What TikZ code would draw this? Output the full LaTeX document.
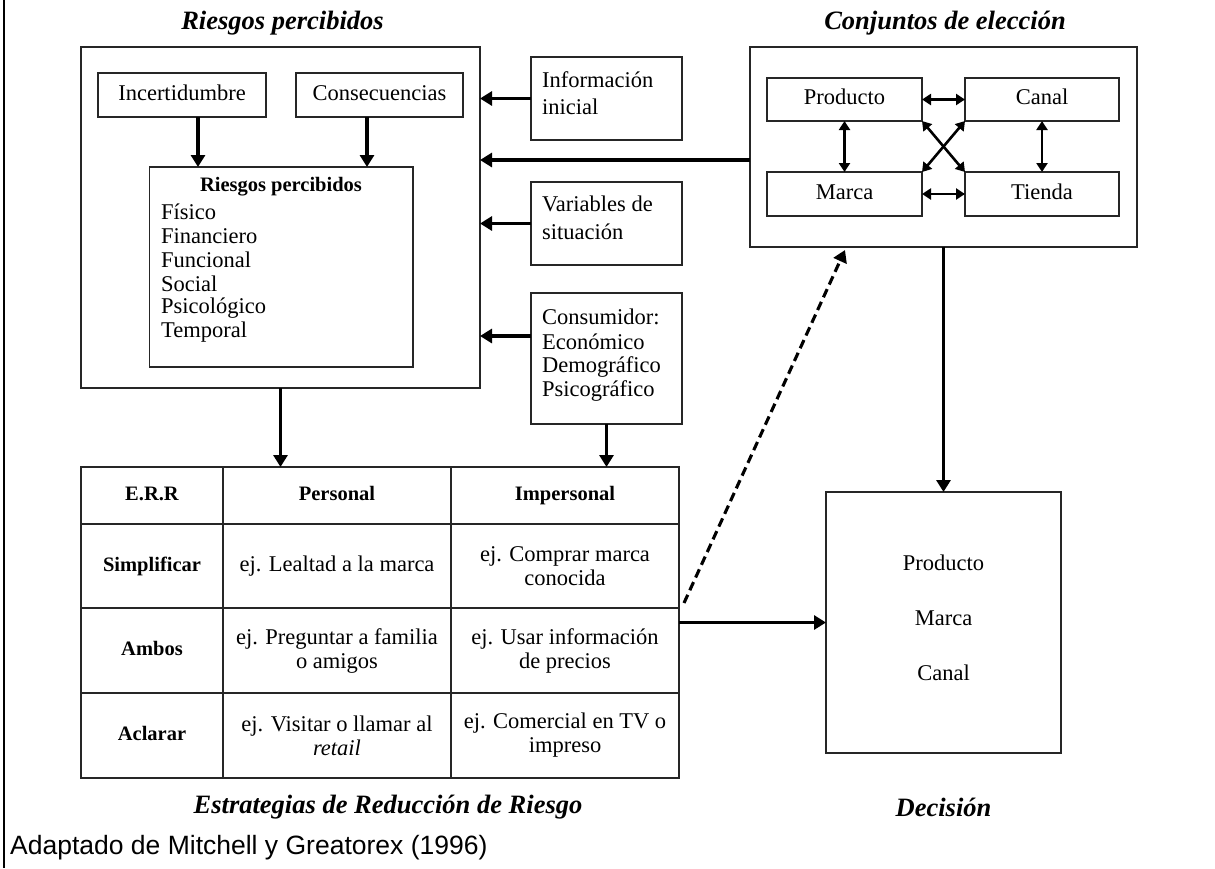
\documentclass[tikz,border=0pt]{standalone}
\usepackage{fontspec}
\setmainfont{Liberation Serif}
\newfontfamily\capfont{Liberation Sans}
\usetikzlibrary{arrows.meta,calc}
\begin{document}
\begin{tikzpicture}[x=1pt,y=-1pt,
  box/.style={draw=black!85,line width=1.7pt,inner sep=0pt,outer sep=0pt},
  arr/.style={line width=3.1pt,-{Triangle[length=12pt,width=14pt]}},
  darr/.style={line width=2.6pt,{Triangle[length=9pt,width=11pt]}-{Triangle[length=9pt,width=11pt]}},
  dasharr/.style={line width=3.1pt,dash pattern=on 9pt off 5pt,-{Triangle[length=12pt,width=14pt]}},
  ttl/.style={inner sep=0pt,font=\fontsize{26.5}{30}\selectfont\bfseries\itshape},
  txt/.style={inner sep=0pt,font=\fontsize{22.5}{24}\selectfont},
  btxt/.style={inner sep=0pt,font=\fontsize{20.5}{24}\selectfont\bfseries},
  cell/.style={box,align=center,font=\fontsize{22.5}{24}\selectfont},
  bcell/.style={box,font=\fontsize{20.5}{24}\selectfont\bfseries,text height=14pt,text depth=4pt},
  lbox/.style={box,font=\fontsize{22.5}{24}\selectfont,text height=15pt,text depth=5pt},
]
\useasboundingbox (0,0) rectangle (1215,868);
\draw[line width=2pt] (4,0) -- (4,868);

% titles
\node[ttl] (t1) at (282.5,23) {Riesgos percibidos};
\node[ttl] (t2) at (945,23) {Conjuntos de elección};
\node[ttl] (t3) at (388,807) {Estrategias de Reducción de Riesgo};
\node[ttl] (t4) at (943.5,807) {Decisión};
\node[anchor=west,inner sep=0pt,font=\capfont\fontsize{26.5}{30}\selectfont] (src) at (10,848) {Adaptado de Mitchell y Greatorex (1996)};

% perceived risks block
\node[box,minimum width=399pt,minimum height=341pt] (rpbig) at (280.5,217.5) {};
\node[lbox,minimum width=168pt,minimum height=44pt] (inc) at (182,95) {Incertidumbre};
\node[lbox,minimum width=167pt,minimum height=44pt] (cons) at (379.5,95) {Consecuencias};
\node[box,minimum width=263.5pt,minimum height=200pt] (rpin) at (281.25,267) {};
\node[btxt] (rpt) at (281,187) {Riesgos percibidos};
\node[txt,anchor=west] (l1) at (161,212) {Físico};
\node[txt,anchor=west] (l2) at (161,236) {Financiero};
\node[txt,anchor=west] (l3) at (161,260) {Funcional};
\node[txt,anchor=west] (l4) at (161,284) {Social};
\node[txt,anchor=west] (l5) at (161,308) {Psicológico};
\node[txt,anchor=west] (l6) at (161,332) {Temporal};
\draw[arr] ([xshift=16pt]inc.south) -- ([xshift=16pt]inc.south |- rpin.north);
\draw[arr] ([xshift=-12.5pt]cons.south) -- ([xshift=-12.5pt]cons.south |- rpin.north);

% side boxes
\node[box,minimum width=151pt,minimum height=83pt] (info) at (606.5,98.5) {};
\node[txt,anchor=west] (i1) at (542,80) {Información};
\node[txt,anchor=west] (i2) at (542,107) {inicial};
\node[box,minimum width=151pt,minimum height=83pt] (vars) at (606.5,223.5) {};
\node[txt,anchor=west] (v1) at (542,204) {Variables de};
\node[txt,anchor=west] (v2) at (542,232) {situación};
\node[box,minimum width=151pt,minimum height=131pt] (cons2) at (606.5,358.5) {};
\node[txt,anchor=west] (c1) at (542,317) {Consumidor:};
\node[txt,anchor=west] (c2) at (542,342) {Económico};
\node[txt,anchor=west] (c3) at (542,367) {Demográfico};
\node[txt,anchor=west] (c4) at (542,391) {Psicográfico};
\draw[arr] (info.west) -- (info.west -| rpbig.east);
\draw[arr] (vars.west) -- (vars.west -| rpbig.east);
\draw[arr] ([yshift=22.5pt]cons2.west) -- ([yshift=22.5pt]cons2.west -| rpbig.east);

% choice sets
\node[box,minimum width=387pt,minimum height=200pt] (conj) at (943.5,147) {};
\node[lbox,minimum width=155pt,minimum height=43pt] (prod) at (844.5,99.5) {Producto};
\node[lbox,minimum width=154pt,minimum height=43pt] (canal) at (1042,99.5) {Canal};
\node[lbox,minimum width=155pt,minimum height=44pt] (marca) at (844.5,194) {Marca};
\node[lbox,minimum width=154pt,minimum height=44pt] (tienda) at (1042,194) {Tienda};
\draw[darr] (prod.east) -- (canal.west);
\draw[darr] (marca.east) -- (tienda.west);
\draw[darr] (prod.south) -- (marca.north);
\draw[darr] (canal.south) -- (tienda.north);
\draw[darr] (prod.south east) -- (tienda.north west);
\draw[darr] (canal.south west) -- (marca.north east);
\draw[arr] ([yshift=-13pt]conj.west) -- ([yshift=-13pt]conj.west -| rpbig.east);

% decision
\node[box,minimum width=235pt,minimum height=261pt] (dec) at (943.5,622.5) {};
\node[txt] (d1) at (943.5,563) {Producto};
\node[txt] (d2) at (943.5,618) {Marca};
\node[txt] (d3) at (943.5,673) {Canal};
\draw[arr] (conj.south) -- (dec.north);

% table
\node[box,minimum width=598pt,minimum height=311pt] (tbl) at (380,622.5) {};
\node[bcell,minimum width=142pt,minimum height=57pt] (h1) at (152,495.5) {E.R.R};
\node[bcell,minimum width=228pt,minimum height=57pt] (h2) at (337,495.5) {Personal};
\node[bcell,minimum width=228pt,minimum height=57pt] (h3) at (565,495.5) {Impersonal};
\node[bcell,minimum width=142pt,minimum height=84pt] (a1) at (152,566) {Simplificar};
\node[cell,minimum width=228pt,minimum height=84pt] (a2) at (337,566) {ej. Lealtad a la marca};
\node[cell,minimum width=228pt,minimum height=84pt] (a3) at (565,566) {ej. Comprar marca\\conocida};
\node[bcell,minimum width=142pt,minimum height=85pt] (b1) at (152,650.5) {Ambos};
\node[cell,minimum width=228pt,minimum height=85pt] (b2) at (337,650.5) {ej. Preguntar a familia\\o amigos};
\node[cell,minimum width=228pt,minimum height=85pt] (b3) at (565,650.5) {ej. Usar información\\de precios};
\node[bcell,minimum width=142pt,minimum height=85pt] (e1) at (152,735.5) {Aclarar};
\node[cell,minimum width=228pt,minimum height=85pt] (e2) at (337,735.5) {ej. Visitar o llamar al\\\textit{retail}};
\node[cell,minimum width=228pt,minimum height=85pt] (e3) at (565,735.5) {ej. Comercial en TV o\\impreso};

\draw[arr] (rpbig.south) -- (rpbig.south |- tbl.north);
\draw[arr] (cons2.south) -- (cons2.south |- tbl.north);
\draw[arr] (tbl.east) -- (dec.west);
\coordinate (ds) at (684,603);
\draw[dasharr] (ds) -- ([xshift=-98.5pt,yshift=-3pt]conj.south);
\end{tikzpicture}
\end{document}
